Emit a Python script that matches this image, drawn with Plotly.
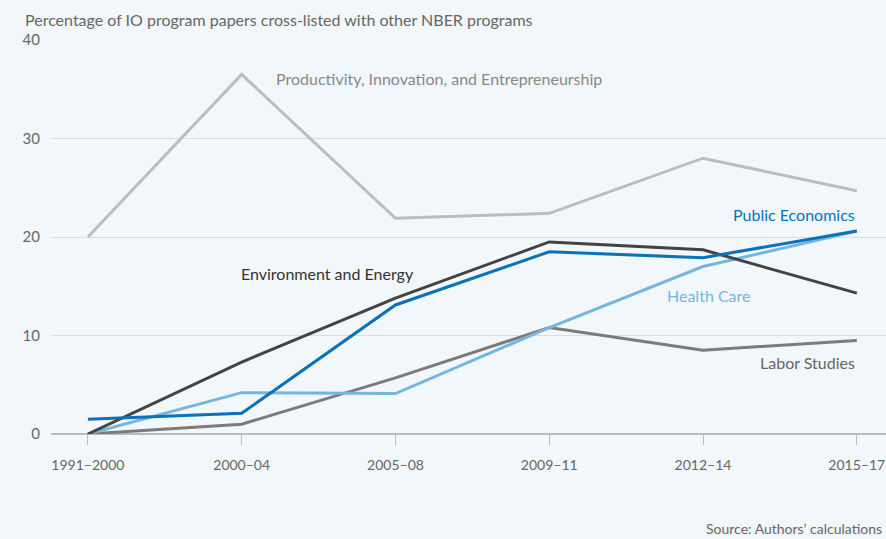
import plotly.graph_objects as go

periods = ["1991–2000", "2000–04", "2005–08", "2009–11", "2012–14", "2015–17"]
productivity = [20.0, 36.5, 21.9, 22.4, 28.0, 24.7]
environment = [0.0, 7.3, 13.8, 19.5, 18.7, 14.3]
public_econ = [1.5, 2.1, 13.1, 18.5, 17.9, 20.6]
health_care = [0.0, 4.2, 4.1, 10.8, 17.0, 20.6]
labor = [0.0, 1.0, 5.7, 10.8, 8.5, 9.5]

FONT = "Lato"
BG = "#f2f7fb"

series = [
    ("Productivity, Innovation, and Entrepreneurship", productivity, "#bdbdbd"),
    ("Labor Studies", labor, "#7b7b7b"),
    ("Health Care", health_care, "#74b6e0"),
    ("Environment and Energy", environment, "#434343"),
    ("Public Economics", public_econ, "#0a72b8"),
]

xs = list(range(len(periods)))
fig = go.Figure()
for name, vals, col in series:
    fig.add_trace(go.Scatter(x=xs, y=vals, mode="lines", name=name,
                             line=dict(color=col, width=3), hoverinfo="skip"))

labels = [
    ("Productivity, Innovation, and Entrepreneurship", 1.21, 36.1, "left", "#888888"),
    ("Public Economics", 5.0, 22.3, "right", "#0a72b8"),
    ("Environment and Energy", 0.98, 16.3, "left", "#333333"),
    ("Health Care", 3.75, 14.1, "left", "#74b6e0"),
    ("Labor Studies", 5.0, 7.3, "right", "#666666"),
]
for txt, x, y, anc, col in labels:
    fig.add_annotation(x=x, y=y, text=txt, showarrow=False, xanchor=anc,
                       yanchor="middle", font=dict(family=FONT, size=16, color=col))

fig.add_annotation(xref="paper", yref="paper", x=-0.033, y=1.0, yshift=9,
                   text="Percentage of IO program papers cross-listed with other NBER programs",
                   showarrow=False, xanchor="left", yanchor="bottom",
                   font=dict(family=FONT, size=16, color="#666666"))
fig.add_annotation(xref="paper", yref="paper", x=0.998, y=0, yshift=-105,
                   text="Source: Authors’ calculations", showarrow=False,
                   xanchor="right", yanchor="bottom",
                   font=dict(family=FONT, size=14, color="#666666"))

fig.update_layout(
    width=886, height=539,
    margin=dict(l=51, r=0, t=40, b=105),
    paper_bgcolor=BG, plot_bgcolor=BG,
    showlegend=False,
    font=dict(family=FONT, color="#666666", size=14),
    xaxis=dict(range=[-0.24, 5.19], tickvals=xs, ticktext=periods,
               showgrid=False, zeroline=False, showline=False,
               ticks="outside", ticklen=10, tickcolor="#bbbbbb",
               ticklabelstandoff=8,
               tickfont=dict(size=14, color="#666666")),
    yaxis=dict(range=[0, 40], tickvals=[0, 10, 20, 30, 40],
               showgrid=True, gridcolor="#d9dde1", gridwidth=1,
               zeroline=True, zerolinecolor="#bbbbbb", zerolinewidth=1.5,
               ticks="", ticklabelstandoff=10,
               tickfont=dict(size=15, color="#666666")),
)

fig.write_html("out.html", config={"displayModeBar": False},
               post_script="document.body.style.margin='0';")
